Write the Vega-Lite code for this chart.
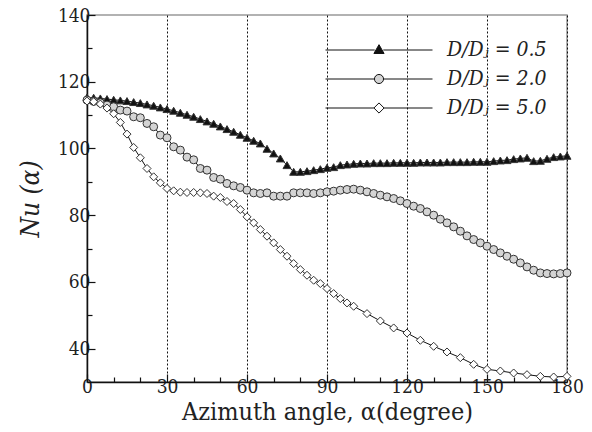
{
  "$schema": "https://vega.github.io/schema/vega-lite/v6.json",
  "width": 480,
  "height": 367,
  "autosize": {"type": "none"},
  "padding": {"left": 87, "top": 15, "right": 25, "bottom": 50},
  "background": "white",
  "config": {
    "view": {"stroke": "#999999", "strokeWidth": 1.5}
  },
  "data": {"values": [
    {"a":0,"n":115.3,"s":"0.5"},{"a":2.5,"n":115.2,"s":"0.5"},{"a":5,"n":115.0,"s":"0.5"},{"a":7.5,"n":114.8,"s":"0.5"},{"a":10,"n":114.6,"s":"0.5"},{"a":12.5,"n":114.4,"s":"0.5"},{"a":15,"n":114.2,"s":"0.5"},{"a":17.5,"n":113.9,"s":"0.5"},{"a":20,"n":113.6,"s":"0.5"},{"a":22.5,"n":113.2,"s":"0.5"},{"a":25,"n":112.8,"s":"0.5"},{"a":27.5,"n":112.3,"s":"0.5"},{"a":30,"n":111.8,"s":"0.5"},{"a":32.5,"n":111.3,"s":"0.5"},{"a":35,"n":110.7,"s":"0.5"},{"a":37.5,"n":110.1,"s":"0.5"},{"a":40,"n":109.5,"s":"0.5"},{"a":42.5,"n":108.8,"s":"0.5"},{"a":45,"n":108.1,"s":"0.5"},{"a":47.5,"n":107.4,"s":"0.5"},{"a":50,"n":106.6,"s":"0.5"},{"a":52.5,"n":105.8,"s":"0.5"},{"a":55,"n":105.0,"s":"0.5"},{"a":57.5,"n":104.1,"s":"0.5"},{"a":60,"n":103.2,"s":"0.5"},{"a":62.5,"n":102.3,"s":"0.5"},{"a":65,"n":101.5,"s":"0.5"},{"a":67.5,"n":99.9,"s":"0.5"},{"a":70,"n":98.5,"s":"0.5"},{"a":72.5,"n":97.0,"s":"0.5"},{"a":75,"n":95.0,"s":"0.5"},{"a":77.5,"n":93.0,"s":"0.5"},{"a":80,"n":93.0,"s":"0.5"},{"a":82.5,"n":93.2,"s":"0.5"},{"a":85,"n":93.5,"s":"0.5"},{"a":87.5,"n":93.8,"s":"0.5"},{"a":90,"n":94.2,"s":"0.5"},{"a":92.5,"n":94.4,"s":"0.5"},{"a":95,"n":95.0,"s":"0.5"},{"a":97.5,"n":95.2,"s":"0.5"},{"a":100,"n":95.4,"s":"0.5"},{"a":102.5,"n":95.5,"s":"0.5"},{"a":105,"n":95.5,"s":"0.5"},{"a":107.5,"n":95.6,"s":"0.5"},{"a":110,"n":95.6,"s":"0.5"},{"a":112.5,"n":95.6,"s":"0.5"},{"a":115,"n":95.7,"s":"0.5"},{"a":117.5,"n":95.7,"s":"0.5"},{"a":120,"n":95.7,"s":"0.5"},{"a":122.5,"n":95.7,"s":"0.5"},{"a":125,"n":95.8,"s":"0.5"},{"a":127.5,"n":95.8,"s":"0.5"},{"a":130,"n":95.8,"s":"0.5"},{"a":132.5,"n":95.8,"s":"0.5"},{"a":135,"n":95.9,"s":"0.5"},{"a":137.5,"n":95.9,"s":"0.5"},{"a":140,"n":95.9,"s":"0.5"},{"a":142.5,"n":95.9,"s":"0.5"},{"a":145,"n":96.0,"s":"0.5"},{"a":147.5,"n":96.0,"s":"0.5"},{"a":150,"n":96.0,"s":"0.5"},{"a":152.5,"n":96.2,"s":"0.5"},{"a":155,"n":96.4,"s":"0.5"},{"a":157.5,"n":96.5,"s":"0.5"},{"a":160,"n":96.8,"s":"0.5"},{"a":162.5,"n":97.0,"s":"0.5"},{"a":165,"n":97.2,"s":"0.5"},{"a":167.5,"n":96.2,"s":"0.5"},{"a":170,"n":96.3,"s":"0.5"},{"a":172.5,"n":96.9,"s":"0.5"},{"a":175,"n":97.4,"s":"0.5"},{"a":177.5,"n":97.6,"s":"0.5"},{"a":180,"n":97.8,"s":"0.5"},
    {"a":0,"n":114.5,"s":"2.0"},{"a":2.5,"n":114.1,"s":"2.0"},{"a":5,"n":113.7,"s":"2.0"},{"a":7.5,"n":113.0,"s":"2.0"},{"a":10,"n":112.5,"s":"2.0"},{"a":12.5,"n":111.5,"s":"2.0"},{"a":15,"n":111.2,"s":"2.0"},{"a":17.5,"n":109.5,"s":"2.0"},{"a":20,"n":109.2,"s":"2.0"},{"a":22.5,"n":107.5,"s":"2.0"},{"a":25,"n":106.5,"s":"2.0"},{"a":27.5,"n":104.0,"s":"2.0"},{"a":30,"n":103.2,"s":"2.0"},{"a":32.5,"n":100.5,"s":"2.0"},{"a":35,"n":99.5,"s":"2.0"},{"a":37.5,"n":97.4,"s":"2.0"},{"a":40,"n":96.6,"s":"2.0"},{"a":42.5,"n":94.0,"s":"2.0"},{"a":45,"n":93.5,"s":"2.0"},{"a":47.5,"n":91.3,"s":"2.0"},{"a":50,"n":90.8,"s":"2.0"},{"a":52.5,"n":89.5,"s":"2.0"},{"a":55,"n":88.8,"s":"2.0"},{"a":57.5,"n":88.3,"s":"2.0"},{"a":60,"n":87.5,"s":"2.0"},{"a":62.5,"n":86.7,"s":"2.0"},{"a":65,"n":86.5,"s":"2.0"},{"a":67.5,"n":86.7,"s":"2.0"},{"a":70,"n":85.7,"s":"2.0"},{"a":72.5,"n":85.7,"s":"2.0"},{"a":75,"n":85.7,"s":"2.0"},{"a":77.5,"n":86.7,"s":"2.0"},{"a":80,"n":86.7,"s":"2.0"},{"a":82.5,"n":86.7,"s":"2.0"},{"a":85,"n":86.5,"s":"2.0"},{"a":87.5,"n":86.7,"s":"2.0"},{"a":90,"n":87.0,"s":"2.0"},{"a":92.5,"n":87.2,"s":"2.0"},{"a":95,"n":87.5,"s":"2.0"},{"a":97.5,"n":87.7,"s":"2.0"},{"a":100,"n":87.8,"s":"2.0"},{"a":102.5,"n":87.5,"s":"2.0"},{"a":105,"n":87.0,"s":"2.0"},{"a":107.5,"n":86.5,"s":"2.0"},{"a":110,"n":86.0,"s":"2.0"},{"a":112.5,"n":85.5,"s":"2.0"},{"a":115,"n":85.0,"s":"2.0"},{"a":117.5,"n":84.3,"s":"2.0"},{"a":120,"n":83.5,"s":"2.0"},{"a":122.5,"n":82.7,"s":"2.0"},{"a":125,"n":82.0,"s":"2.0"},{"a":127.5,"n":81.0,"s":"2.0"},{"a":130,"n":80.0,"s":"2.0"},{"a":132.5,"n":78.8,"s":"2.0"},{"a":135,"n":77.7,"s":"2.0"},{"a":137.5,"n":76.5,"s":"2.0"},{"a":140,"n":75.2,"s":"2.0"},{"a":142.5,"n":73.8,"s":"2.0"},{"a":145,"n":72.7,"s":"2.0"},{"a":147.5,"n":71.7,"s":"2.0"},{"a":150,"n":70.7,"s":"2.0"},{"a":152.5,"n":69.7,"s":"2.0"},{"a":155,"n":68.7,"s":"2.0"},{"a":157.5,"n":67.7,"s":"2.0"},{"a":160,"n":66.8,"s":"2.0"},{"a":162.5,"n":65.7,"s":"2.0"},{"a":165,"n":64.5,"s":"2.0"},{"a":167.5,"n":63.5,"s":"2.0"},{"a":170,"n":62.7,"s":"2.0"},{"a":172.5,"n":62.5,"s":"2.0"},{"a":175,"n":62.4,"s":"2.0"},{"a":177.5,"n":62.5,"s":"2.0"},{"a":180,"n":62.7,"s":"2.0"},
    {"a":0,"n":114.2,"s":"5.0"},{"a":2.5,"n":114.0,"s":"5.0"},{"a":5,"n":113.3,"s":"5.0"},{"a":7.5,"n":112.1,"s":"5.0"},{"a":10,"n":110.4,"s":"5.0"},{"a":12.5,"n":107.8,"s":"5.0"},{"a":15,"n":104.3,"s":"5.0"},{"a":17.5,"n":100.3,"s":"5.0"},{"a":20,"n":97.2,"s":"5.0"},{"a":22.5,"n":94.0,"s":"5.0"},{"a":25,"n":91.5,"s":"5.0"},{"a":27.5,"n":89.7,"s":"5.0"},{"a":30,"n":88.0,"s":"5.0"},{"a":32.5,"n":87.3,"s":"5.0"},{"a":35,"n":86.9,"s":"5.0"},{"a":37.5,"n":86.8,"s":"5.0"},{"a":40,"n":86.8,"s":"5.0"},{"a":42.5,"n":86.7,"s":"5.0"},{"a":45,"n":86.5,"s":"5.0"},{"a":47.5,"n":85.7,"s":"5.0"},{"a":50,"n":85.3,"s":"5.0"},{"a":52.5,"n":84.1,"s":"5.0"},{"a":55,"n":83.5,"s":"5.0"},{"a":57.5,"n":81.7,"s":"5.0"},{"a":60,"n":79.5,"s":"5.0"},{"a":62.5,"n":77.7,"s":"5.0"},{"a":65,"n":75.7,"s":"5.0"},{"a":67.5,"n":73.7,"s":"5.0"},{"a":70,"n":71.7,"s":"5.0"},{"a":72.5,"n":69.7,"s":"5.0"},{"a":75,"n":67.7,"s":"5.0"},{"a":77.5,"n":65.5,"s":"5.0"},{"a":80,"n":63.7,"s":"5.0"},{"a":82.5,"n":62.0,"s":"5.0"},{"a":85,"n":60.5,"s":"5.0"},{"a":87.5,"n":59.5,"s":"5.0"},{"a":90,"n":58.0,"s":"5.0"},{"a":92.5,"n":56.5,"s":"5.0"},{"a":95,"n":55.0,"s":"5.0"},{"a":97.5,"n":53.7,"s":"5.0"},{"a":100,"n":52.7,"s":"5.0"},{"a":105,"n":50.5,"s":"5.0"},{"a":110,"n":48.3,"s":"5.0"},{"a":115,"n":46.2,"s":"5.0"},{"a":120,"n":44.7,"s":"5.0"},{"a":125,"n":42.5,"s":"5.0"},{"a":130,"n":40.7,"s":"5.0"},{"a":135,"n":39.0,"s":"5.0"},{"a":140,"n":37.3,"s":"5.0"},{"a":145,"n":35.3,"s":"5.0"},{"a":150,"n":33.8,"s":"5.0"},{"a":155,"n":33.3,"s":"5.0"},{"a":160,"n":32.7,"s":"5.0"},{"a":165,"n":32.2,"s":"5.0"},{"a":170,"n":31.7,"s":"5.0"},{"a":175,"n":31.5,"s":"5.0"},{"a":180,"n":31.7,"s":"5.0"}
  ]},
  "encoding": {
    "x": {
      "field": "a", "type": "quantitative",
      "scale": {"domain": [0, 180], "nice": false, "zero": false},
      "axis": {
        "title": "Azimuth angle, α(degree)",
        "titleFont": "DejaVu Serif Condensed",
        "titleFontSize": 25, "titleFontWeight": "normal", "titleColor": "#222", "titlePadding": 0,
        "values": [0,10,20,30,40,50,60,70,80,90,100,110,120,130,140,150,160,170,180],
        "labelExpr": "datum.value % 30 === 0 ? datum.label : ''",
        "labelFont": "DejaVu Serif Condensed",
        "labelFontSize": 19, "labelColor": "#222", "labelFlush": false, "labelOverlap": false, "labelPadding": 3,
        "domainColor": "#111", "domainWidth": 1.5,
        "tickColor": "#111", "tickWidth": 1.2,
        "tickSize": {"condition": {"test": "datum.value % 30 === 0", "value": -8}, "value": -5},
        "grid": true, "gridColor": "#111", "gridDash": [2, 2], "gridWidth": 1,
        "gridOpacity": {"condition": {"test": "datum.value % 30 === 0 && datum.value > 0", "value": 1}, "value": 0}
      }
    },
    "y": {
      "field": "n", "type": "quantitative",
      "scale": {"domain": [30, 140], "nice": false, "zero": false},
      "axis": {
        "title": "Nu (α)",
        "titleFont": "DejaVu Serif Condensed",
        "titleFontSize": 26, "titleFontWeight": "normal", "titleFontStyle": "italic", "titleColor": "#222", "titlePadding": 14,
        "values": [40,50,60,70,80,90,100,110,120,130,140],
        "labelExpr": "datum.value % 20 === 0 ? datum.label : ''",
        "labelFont": "DejaVu Serif Condensed",
        "labelFontSize": 19, "labelColor": "#222", "labelFlush": false, "labelOverlap": false, "labelPadding": 5,
        "domainColor": "#111", "domainWidth": 1.5,
        "tickColor": "#111", "tickWidth": 1.2,
        "tickSize": {"condition": {"test": "datum.value % 20 === 0", "value": -8}, "value": -5},
        "grid": false
      }
    }
  },
  "layer": [
    {
      "mark": {"type": "line", "color": "#111", "strokeWidth": 1},
      "encoding": {"detail": {"field": "s"}}
    },
    {
      "mark": {"type": "point", "filled": true, "opacity": 1, "stroke": "#333", "strokeWidth": 1, "size": 64},
      "encoding": {
        "shape": {"field": "s", "type": "nominal", "scale": {"domain": ["0.5", "2.0", "5.0"], "range": ["triangle-up", "circle", "diamond"]}, "legend": null},
        "fill": {
          "field": "s", "type": "nominal",
          "scale": {"range": ["#111111", "#d4d4d4", "#ffffff"]},
          "legend": {
            "title": null, "orient": "none", "legendX": 238, "legendY": 24,
            "labelExpr": "'D/Dⱼ = ' + datum.label",
            "labelFont": "DejaVu Serif Condensed",
            "labelFontSize": 21, "labelFontStyle": "italic", "labelColor": "#222", "labelOffset": 14,
            "clipHeight": 22, "rowPadding": 7,
            "symbolSize": 11449, "symbolStrokeWidth": 1, "symbolStrokeColor": "#111",
            "symbolType": {"expr": "datum.value === '0.5' ? 'M-1,0H-0.08M0.08,0H1M0,-0.1L0.095,0.065L-0.095,0.065Z' : datum.value === '2.0' ? 'M-1,0H-0.085M0.085,0H1M-0.085,0A0.085,0.085,0,1,1,0.085,0A0.085,0.085,0,1,1,-0.085,0Z' : 'M-1,0H-0.095M0.095,0H1M0,-0.095L0.095,0L0,0.095L-0.095,0Z'"}
          }
        }
      }
    }
  ]
}
